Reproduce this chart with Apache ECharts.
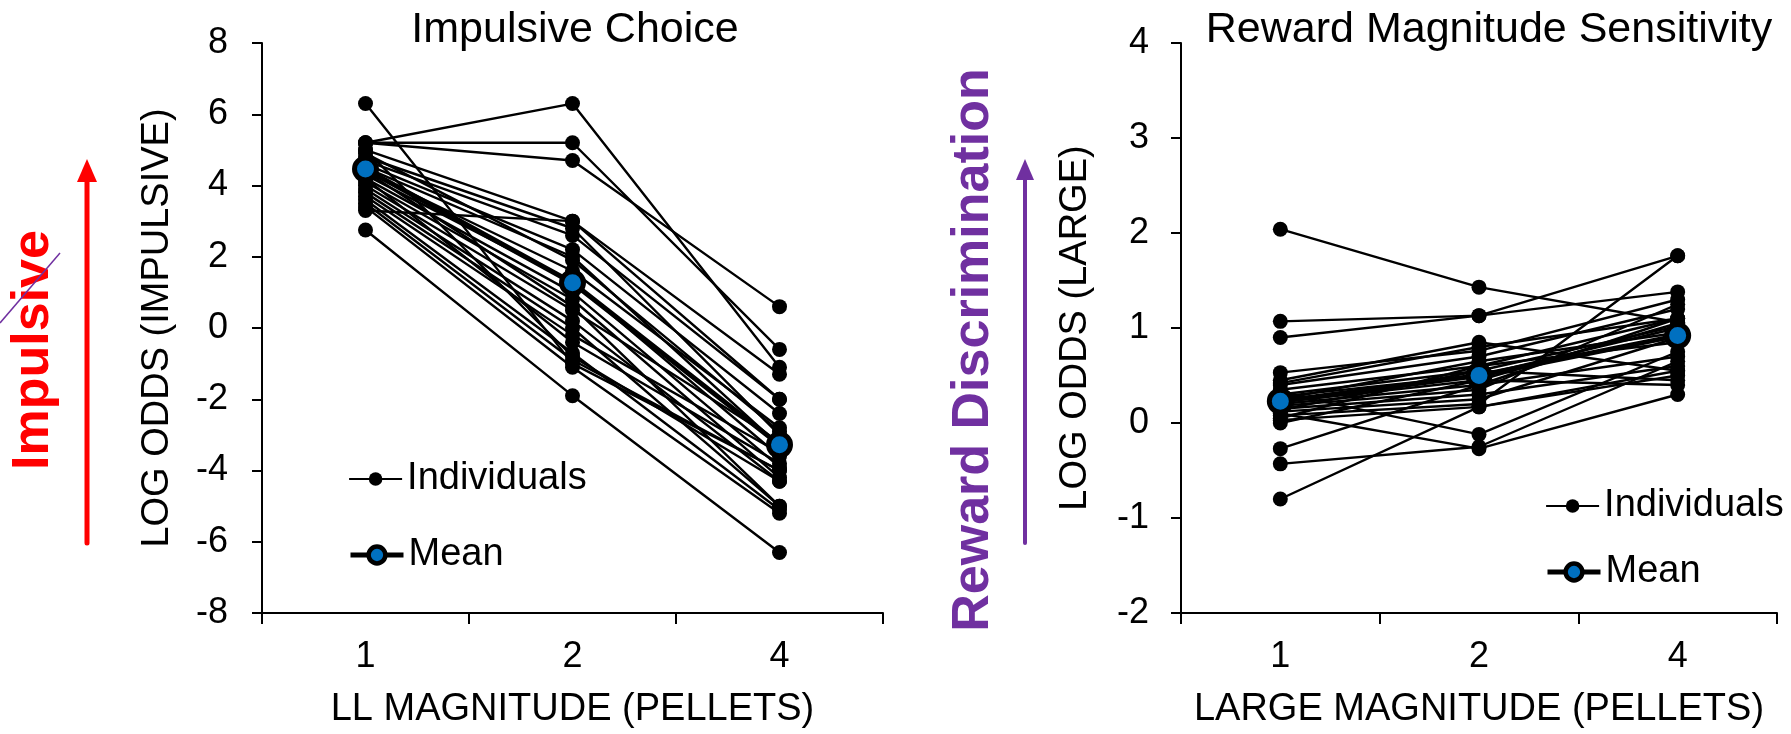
<!DOCTYPE html>
<html><head><meta charset="utf-8">
<script src="https://cdn.jsdelivr.net/npm/echarts@6/dist/echarts.min.js"></script>
<style>html,body{margin:0;padding:0;background:#fff}#c{width:1791px;height:734px}</style>
</head><body><div id="c"></div>
<script>
// ---- data ----
const categories = ['1', '2', '4'];

// Impulsive choice: log odds (impulsive) per rat at LL magnitude 1, 2, 4
const impulsiveIndividuals = [
  [5.2, 6.3, -1.1], [5.2, 5.2, -0.6], [5.2, 4.7, 0.6], [6.3, -1.0, -4.0],
  [5.0, 3.0, -2.0], [4.8, 2.8, -3.0], [4.6, 2.2, -2.4], [4.5, 2.0, -3.3],
  [4.4, 1.6, -2.8], [4.3, 1.3, -3.6], [4.2, 1.0, -3.9], [4.1, 0.8, -4.2],
  [4.0, 0.5, -3.2], [3.9, 0.2, -4.3], [3.8, 0.0, -5.0], [3.7, -0.2, -3.5],
  [3.6, -0.7, -5.1], [3.5, -0.9, -4.0], [3.4, -1.1, -5.2], [3.3, 3.0, -1.3],
  [2.75, -1.9, -6.3], [4.7, 2.6, -2.0], [4.9, 1.9, -2.9], [4.4, 0.6, -5.0],
  [4.2, -0.4, -3.8], [5.0, -0.8, -4.3]
];
const impulsiveMean = [4.46, 1.27, -3.28];

// Reward magnitude sensitivity: log odds (large) per rat at large magnitude 1, 2, 4
const rewardIndividuals = [
  [2.04, 1.43, 1.06], [1.07, 1.13, 1.76], [0.90, 1.13, 1.38], [0.53, 0.76, 1.30],
  [0.45, 0.85, 0.55], [0.40, 0.70, 1.20], [0.35, 0.60, 1.10], [0.30, 0.55, 0.45],
  [0.28, 0.50, 1.00], [0.25, 0.65, 0.95], [0.22, 0.45, 1.05], [0.20, 0.40, 0.70],
  [0.18, 0.35, 1.25], [0.15, 0.30, 0.60], [0.12, 0.25, 0.90], [0.10, -0.27, 0.30],
  [0.08, 0.20, 1.76], [0.05, 0.60, 0.85], [0.03, 0.17, 0.50], [0.00, 0.45, 0.40],
  [-0.27, 0.40, 1.10], [-0.43, -0.25, 0.65], [-0.80, 0.17, 0.55], [0.32, -0.12, 0.75],
  [0.42, 0.80, 1.10], [0.14, 0.55, 1.02]
];
const rewardMean = [0.23, 0.50, 0.92];

// ---- chart ----
const FONT = '"Liberation Sans", Arial, sans-serif';
const chart = echarts.init(document.getElementById('c'), null, {renderer: 'canvas'});

function indivSeries(values, idx) {
  return {
    type: 'line', name: 'Individuals', xAxisIndex: idx, yAxisIndex: idx,
    data: values, symbol: 'circle', symbolSize: 15, showSymbol: true,
    itemStyle: {color: '#000', borderWidth: 0},
    lineStyle: {color: '#000', width: 2.4},
    z: 2, silent: true, animation: false
  };
}
function meanSeries(values, idx) {
  return {
    type: 'line', name: 'Mean', xAxisIndex: idx, yAxisIndex: idx,
    data: values, symbol: 'circle', symbolSize: 22,
    itemStyle: {color: '#0070C0', borderColor: '#000', borderWidth: 5},
    lineStyle: {color: '#000', width: 5},
    z: 5, silent: true, animation: false
  };
}

const series = [];
impulsiveIndividuals.forEach(v => series.push(indivSeries(v, 0)));
rewardIndividuals.forEach(v => series.push(indivSeries(v, 1)));
series.push(meanSeries(impulsiveMean, 0));
series.push(meanSeries(rewardMean, 1));

function xAxis(idx, name) {
  return {
    type: 'category', gridIndex: idx, data: categories, boundaryGap: true,
    axisLine: {show: true, onZero: false, lineStyle: {color: '#000', width: 2}},
    axisTick: {show: true, length: 11, alignWithLabel: false, lineStyle: {color: '#000', width: 2}},
    axisLabel: {fontSize: 36, color: '#000', margin: 26, fontFamily: FONT},
    splitLine: {show: false},
    name: name, nameLocation: 'middle', nameGap: 78,
    nameTextStyle: {fontSize: 38, color: '#000', fontFamily: FONT}
  };
}
function yAxis(idx, name, min, max, interval, gap, margin) {
  return {
    type: 'value', gridIndex: idx, min: min, max: max, interval: interval,
    axisLine: {show: true, onZero: false, lineStyle: {color: '#000', width: 2}},
    axisTick: {show: true, length: 10, lineStyle: {color: '#000', width: 2}},
    axisLabel: {fontSize: 36, color: '#000', margin: margin, fontFamily: FONT},
    splitLine: {show: false},
    name: name, nameLocation: 'middle', nameGap: gap, nameRotate: 90,
    nameTextStyle: {fontSize: 38, color: '#000', fontFamily: FONT}
  };
}

function legendIndiv(left, top) {
  return {
    left: left, top: top, padding: 0, itemWidth: 53, itemHeight: 17,
    data: ['Individuals'], selectedMode: false,
    lineStyle: {color: '#000', width: 2.2},
    itemStyle: {color: '#000', borderWidth: 0},
    textStyle: {fontSize: 38, color: '#000', fontFamily: FONT}
  };
}
function legendMean(left, top) {
  return {
    left: left, top: top, padding: 0, itemWidth: 53, itemHeight: 21,
    data: ['Mean'], selectedMode: false,
    lineStyle: {color: '#000', width: 5},
    itemStyle: {color: '#0070C0', borderColor: '#000', borderWidth: 4.5},
    textStyle: {fontSize: 38, color: '#000', fontFamily: FONT}
  };
}

function txt(text, x, y, font, fill, rot) {
  return {
    type: 'text', x: x, y: y, rotation: rot || 0, z: 10,
    style: {text: text, font: font, fill: fill,
      align: 'center', verticalAlign: 'middle',
      textAlign: 'center', textVerticalAlign: 'middle'}
  };
}

const option = {
  animation: false,
  backgroundColor: '#fff',
  grid: [
    {left: 262, right: 908, top: 43, bottom: 120},
    {left: 1181, right: 14, top: 43, bottom: 120}
  ],
  xAxis: [xAxis(0, 'LL MAGNITUDE (PELLETS)'), xAxis(1, 'LARGE MAGNITUDE (PELLETS)')],
  yAxis: [
    yAxis(0, 'LOG ODDS (IMPULSIVE)', -8, 8, 2, 85, 34),
    yAxis(1, 'LOG ODDS (LARGE)', -2, 4, 1, 86, 32)
  ],
  legend: [
    legendIndiv(348, 460),
    legendMean(348, 536),
    legendIndiv(1545, 487),
    legendMean(1545, 553)
  ],
  graphic: [
    txt('Impulsive Choice', 575, 30, '43px ' + FONT, '#000'),
    txt('Reward Magnitude Sensitivity', 1489, 30, '43px ' + FONT, '#000'),
    txt('Impulsive', 34, 350, 'bold 52px ' + FONT, '#FF0000', Math.PI / 2),
    txt('Reward Discrimination', 974, 350, 'bold 52px ' + FONT, '#7030A0', Math.PI / 2),
    {type: 'line', z: 10, shape: {x1: 87, y1: 543, x2: 87, y2: 176},
      style: {stroke: '#FF0000', lineWidth: 5, lineCap: 'round'}},
    {type: 'polygon', z: 10, shape: {points: [[87, 159], [77, 182], [97, 182]]},
      style: {fill: '#FF0000'}},
    {type: 'line', z: 10, shape: {x1: 1025, y1: 543, x2: 1025, y2: 174},
      style: {stroke: '#7030A0', lineWidth: 4, lineCap: 'round'}},
    {type: 'polygon', z: 10, shape: {points: [[1025, 159], [1016, 180], [1034, 180]]},
      style: {fill: '#7030A0'}},
    {type: 'line', z: 11, shape: {x1: 0, y1: 323, x2: 60, y2: 253},
      style: {stroke: '#7030A0', lineWidth: 1.5}}
  ],
  series: series
};
chart.setOption(option);
</script>
</body></html>
